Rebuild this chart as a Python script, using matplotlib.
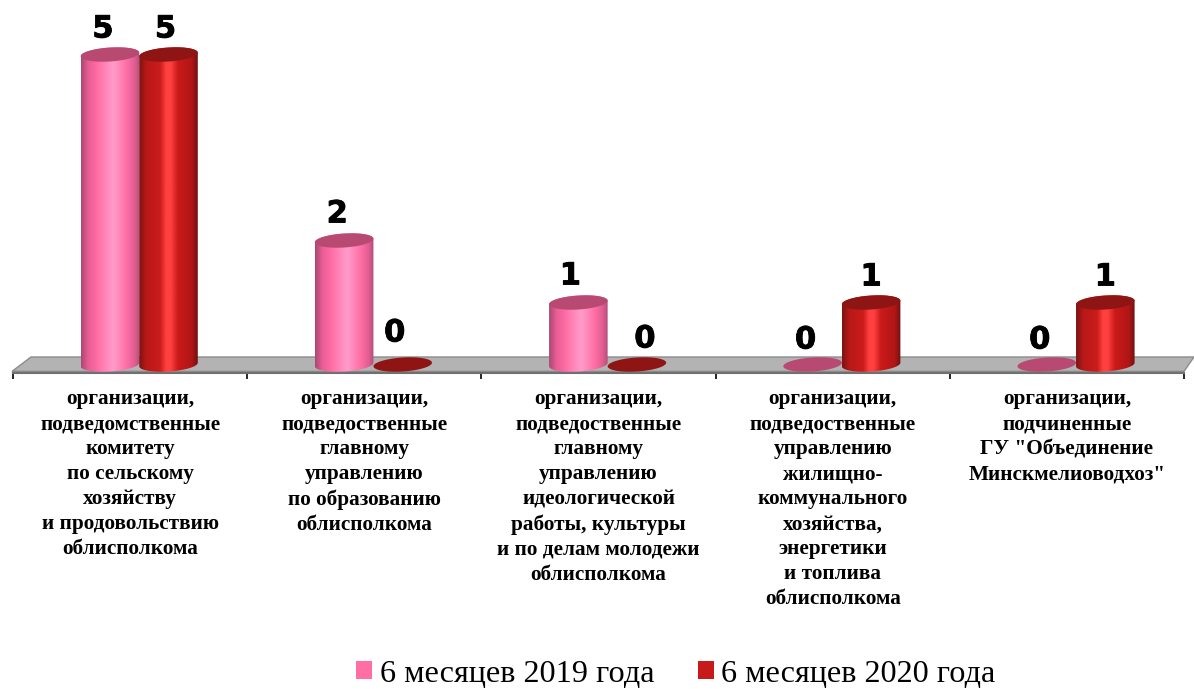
import numpy as np
import matplotlib
matplotlib.use("Agg")
import matplotlib.pyplot as plt
import matplotlib.patheffects as pe
from matplotlib.colors import LinearSegmentedColormap
from matplotlib.patches import Patch, PathPatch, Polygon
from matplotlib.path import Path

# === Data ===
categories = [
    'организации,\nподведомственные\nкомитету\nпо сельскому\nхозяйству\nи продовольствию\nоблисполкома',
    'организации,\nподведоственные\nглавному\nуправлению\nпо образованию\nоблисполкома',
    'организации,\nподведоственные\nглавному\nуправлению\nидеологической\nработы, культуры\nи по делам молодежи\nоблисполкома',
    'организации,\nподведоственные\nуправлению\nжилищно-\nкоммунального\nхозяйства,\nэнергетики\nи топлива\nоблисполкома',
    'организации,\nподчиненные\nГУ "Объединение\nМинскмелиоводхоз"',
]
values_2019 = [5, 2, 1, 0, 0]
values_2020 = [5, 0, 0, 1, 1]
series_names = ['6 месяцев 2019 года', '6 месяцев 2020 года']

# === Style ===
W, H = 1194, 689
base_px = 364.5
px_per_unit = 62.0
axis_px = 372.5
bar_w = 0.25
group_shift = 0.039
ell_h = 7.0 / px_per_unit
ell_tilt = 1.8 / px_per_unit

pink_cmap = LinearSegmentedColormap.from_list('pink', [
    (0.0, '#a84a72'), (0.12, '#e85c94'), (0.28, '#ff6ea5'), (0.55, '#ff9ccb'),
    (0.78, '#ff6ea5'), (0.92, '#e05c90'), (1.0, '#b05078')])
red_cmap = LinearSegmentedColormap.from_list('red', [
    (0.0, '#7c1414'), (0.12, '#b81818'), (0.36, '#cc1c1c'), (0.46, '#ff4040'),
    (0.54, '#ff4040'), (0.66, '#cc1a1a'), (0.9, '#b01616'), (1.0, '#701212')])
pink_top = '#b84a72'
red_top = '#8f1515'

# label nudges in px, hand placed in the original
nudge_2019 = [(-7, 0), (-7, 1), (-8, 1), (-7, -1), (-7, -1)]
nudge_2020 = [(-3, 0), (-8, 6), (8, 0), (0, 0), (0, 0)]

plt.rcParams['font.family'] = 'Liberation Serif'
fig = plt.figure(figsize=(W / 100, H / 100), dpi=100)
ax = fig.add_axes([13 / W, 1 - axis_px / H, (1184 - 13) / W, axis_px / H])
ax.patch.set_alpha(0)


def ellipse_xy(xc, yc, t):
    return (xc + bar_w / 2 * np.cos(t),
            yc + ell_h * np.sin(t) + ell_tilt * np.cos(t))


def draw_cylinder(xc, val, cmap, top_color):
    lx, ly = ellipse_xy(xc, 0, np.linspace(np.pi, 2 * np.pi, 50))
    ux, uy = ellipse_xy(xc, val, np.linspace(0, np.pi, 50))
    if val > 0:
        verts = np.column_stack([np.r_[lx, ux, lx[0]], np.r_[ly, uy, ly[0]]])
        codes = [Path.MOVETO] + [Path.LINETO] * (len(verts) - 2) + [Path.CLOSEPOLY]
        body = PathPatch(Path(verts, codes), fc='none', ec='none', zorder=3)
        ax.add_patch(body)
        im = ax.imshow(np.linspace(0, 1, 200)[None, :], cmap=cmap, aspect='auto',
                       extent=[xc - bar_w / 2, xc + bar_w / 2, -0.2, val + 0.2],
                       zorder=3, interpolation='bilinear')
        im.set_clip_path(body)
    tx, ty = ellipse_xy(xc, val, np.linspace(0, 2 * np.pi, 100))
    ax.fill(tx, ty, color=top_color, lw=0, zorder=3)


# === Floor ===
floor = Polygon([(-1 / 1171, 0.003), (18 / 1171, 15.5 / axis_px), (1181 / 1171, 15.5 / axis_px),
                 (1171 / 1171, 0.003)], closed=True, transform=ax.transAxes,
                fc='#b3b3b3', ec='#8c8c8c', lw=1, clip_on=False, zorder=1)
ax.add_patch(floor)

# === Bars ===
for i in range(len(categories)):
    x_pink = i + 0.5 + group_shift - bar_w / 2
    x_red = i + 0.5 + group_shift + bar_w / 2
    draw_cylinder(x_pink, values_2019[i], pink_cmap, pink_top)
    draw_cylinder(x_red, values_2020[i], red_cmap, red_top)
    for xc, val, nudge in ((x_pink, values_2019[i], nudge_2019[i]),
                           (x_red, values_2020[i], nudge_2020[i])):
        ax.annotate(str(val), (xc, val), xytext=(nudge[0] * 0.72, (25.5 + nudge[1]) * 0.72),
                    textcoords='offset points', ha='center', va='center',
                    family='DejaVu Sans', weight='bold', fontsize=22, zorder=5,
                    path_effects=[pe.Stroke(linewidth=0.6, foreground='black'), pe.Normal()])

# === Axes ===
ax.set_xlim(0, len(categories))
ax.set_ylim(-(axis_px - base_px) / px_per_unit, base_px / px_per_unit)
ax.set_yticks([])
for s in ('top', 'left', 'right'):
    ax.spines[s].set_visible(False)
ax.spines['bottom'].set_color('#707070')
ax.spines['bottom'].set_linewidth(1.5)
ax.spines['bottom'].set_zorder(2)
ax.set_xticks(range(len(categories) + 1))
ax.set_xticklabels([])
ax.tick_params(axis='x', which='major', length=4.5, width=1.2, color='black')
ax.set_xticks(np.arange(len(categories)) + 0.5, minor=True)
ax.set_xticklabels(categories, minor=True, fontsize=15.3, fontweight='bold',
                   linespacing=1.335, va='top', ha='center')
ax.tick_params(axis='x', which='minor', length=0, pad=12)

# === Legend ===
handles = [Patch(fc='#ff6ea5', ec='none'), Patch(fc='#c71a1a', ec='none')]
fig.legend(handles, series_names, loc='center', bbox_to_anchor=(676 / W, 1 - 674 / H),
           ncol=2, frameon=False, fontsize=23.2, handlelength=0.5, handleheight=0.5,
           handletextpad=0.22, columnspacing=1.37, borderpad=0)

fig.savefig('out.png', dpi=100)
